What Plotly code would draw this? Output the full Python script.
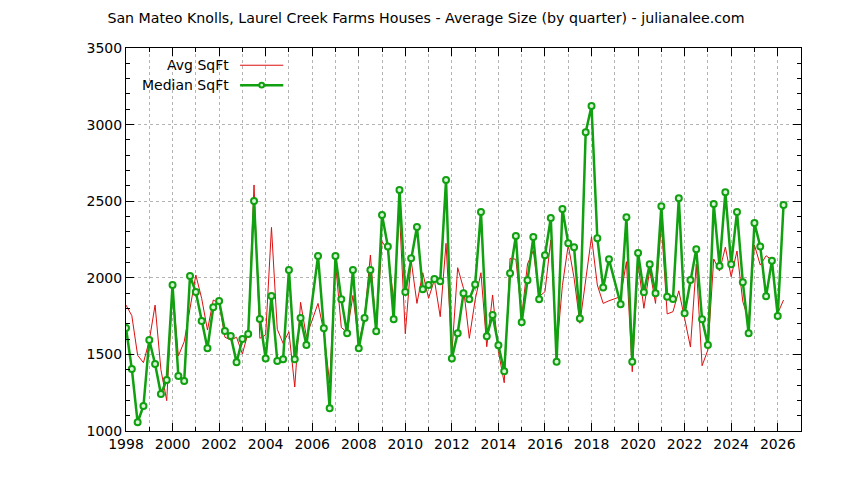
import plotly.graph_objects as go

# quarterly data, 1998 Q1 .. 2026 Q2 (2006 Q1 and 2019 Q1 have no sales)
quarters = [i for i in range(114) if i not in (32, 84)]

median_sqft = [
    1672, 1405, 1057, 1163, 1594, 1437, 1241, 1333, 1953, 1359,
    1326, 2012, 1907, 1718, 1540, 1807, 1849, 1653, 1620, 1448,
    1600, 1633, 2501, 1731, 1474, 1881, 1457, 1468, 2051, 1468,
    1738, 1561, 2142, 1670, 1148, 2142, 1860, 1638, 2051, 1540,
    1738, 2051, 1651, 2410, 2205, 1729, 2573, 1907, 2127, 2332,
    1925, 1953, 1992, 1977, 2638, 1474, 1638, 1899, 1860, 1957,
    2430, 1618, 1757, 1559, 1390, 2029, 2273, 1710, 1984, 2266,
    1860, 2147, 2390, 1452, 2449, 2225, 2200, 1735, 2950, 3121,
    2258, 1936, 2121, 1828, 2395, 1452, 2162, 1905, 2088, 1899,
    2467, 1877, 1862, 2519, 1768, 1986, 2186, 1729, 1561, 2482,
    2077, 2558, 2088, 2430, 1971, 1638, 2358, 2205, 1879, 2112,
    1751, 2475,
]

avg_sqft = [
    1822, 1753, 1494, 1446, 1590, 1822, 1400, 1198, 1930, 1490,
    1583, 1811, 2018, 1866, 1659, 1855, 1833, 1612, 1594, 1612,
    1503, 1645, 2606, 1605, 1627, 2329, 1664, 1572, 1648, 1287,
    1840, 1616, 1833, 1648, 1311, 2100, 1676, 1643, 1885, 1572,
    1746, 2149, 1659, 2236, 2181, 1855, 2420, 1635, 2116, 1833,
    2033, 1866, 1986, 1746, 2225, 1507, 2066, 1931, 1605, 1855,
    2033, 1550, 1888, 1518, 1315, 2127, 2121, 1746, 2090, 2177,
    1877, 1909, 2247, 1520, 1950, 2214, 2000, 1703, 1985, 2268,
    1953, 1833, 1850, 1877, 2105, 1387, 2094, 1801, 2051, 1833,
    2356, 1764, 1779, 1915, 1735, 1548, 2090, 1426, 1529, 2123,
    2044, 2200, 2007, 2175, 1844, 1724, 2214, 2083, 2144, 2116,
    1768, 1855,
]

years = [1998 + q / 4 for q in quarters]

RED = "#dd1010"
GREEN = "#10a010"
FONT = "DejaVu Sans"

fig = go.Figure()
fig.add_trace(go.Scatter(
    x=years, y=avg_sqft, mode="lines", name="Avg SqFt",
    line=dict(color=RED, width=1),
))
fig.add_trace(go.Scatter(
    x=years, y=median_sqft, mode="lines+markers", name="Median SqFt",
    line=dict(color=GREEN, width=2.5),
    marker=dict(symbol="circle", size=6, color="#d8f5d8",
                line=dict(color=GREEN, width=2)),
))

# gnuplot-style key: text right-aligned, sample to the right
key = [("Avg SqFt", RED, 1, False, 0.955), ("Median SqFt", GREEN, 2.5, True, 0.903)]
for label, col, w, marker, ky in key:
    fig.add_annotation(xref="paper", yref="paper", x=0.155, y=ky, text=label,
                       showarrow=False, xanchor="right", yanchor="middle",
                       font=dict(family=FONT, size=14, color="black"))
    fig.add_shape(type="line", xref="paper", yref="paper",
                  x0=0.169, x1=0.233, y0=ky, y1=ky,
                  line=dict(color=col, width=w))
    if marker:
        fig.add_shape(type="circle", xref="paper", yref="paper",
                      x0=0.201 - 0.0035, x1=0.201 + 0.0035,
                      y0=ky - 0.006, y1=ky + 0.006,
                      fillcolor="#d8f5d8", line=dict(color=col, width=2))

# page body has an 8px margin, so the figure is a bit smaller than the window
fig.update_layout(
    width=836, height=472,
    margin=dict(l=118, r=43, t=40, b=49),
    paper_bgcolor="white", plot_bgcolor="white",
    showlegend=False,
    font=dict(family=FONT, size=14, color="black"),
    title=dict(text="San Mateo Knolls, Laurel Creek Farms Houses - Average Size (by quarter) - julianalee.com",
               x=0.5, xanchor="center", y=0.979, yanchor="middle",
               font=dict(family=FONT, size=14.2, color="black")),
)
fig.update_xaxes(
    range=[1998, 2027], tick0=1998, dtick=2,
    showline=True, linecolor="black", linewidth=1, mirror="allticks",
    ticks="inside", ticklen=8, tickcolor="black",
    showgrid=True, gridcolor="#b4b4b4", griddash="dot", gridwidth=1,
    minor=dict(dtick=1, ticks="inside", ticklen=4, tickcolor="black",
               showgrid=True, gridcolor="#b4b4b4", griddash="dot"),
    zeroline=False,
)
fig.update_yaxes(
    range=[1000, 3500], tick0=1000, dtick=500,
    showline=True, linecolor="black", linewidth=1, mirror="allticks",
    ticks="inside", ticklen=8, tickcolor="black",
    showgrid=True, gridcolor="#b4b4b4", griddash="dot", gridwidth=1,
    minor=dict(dtick=100, ticks="inside", ticklen=4, tickcolor="black",
               showgrid=False),
    zeroline=False,
)

fig.write_html("out.html")
